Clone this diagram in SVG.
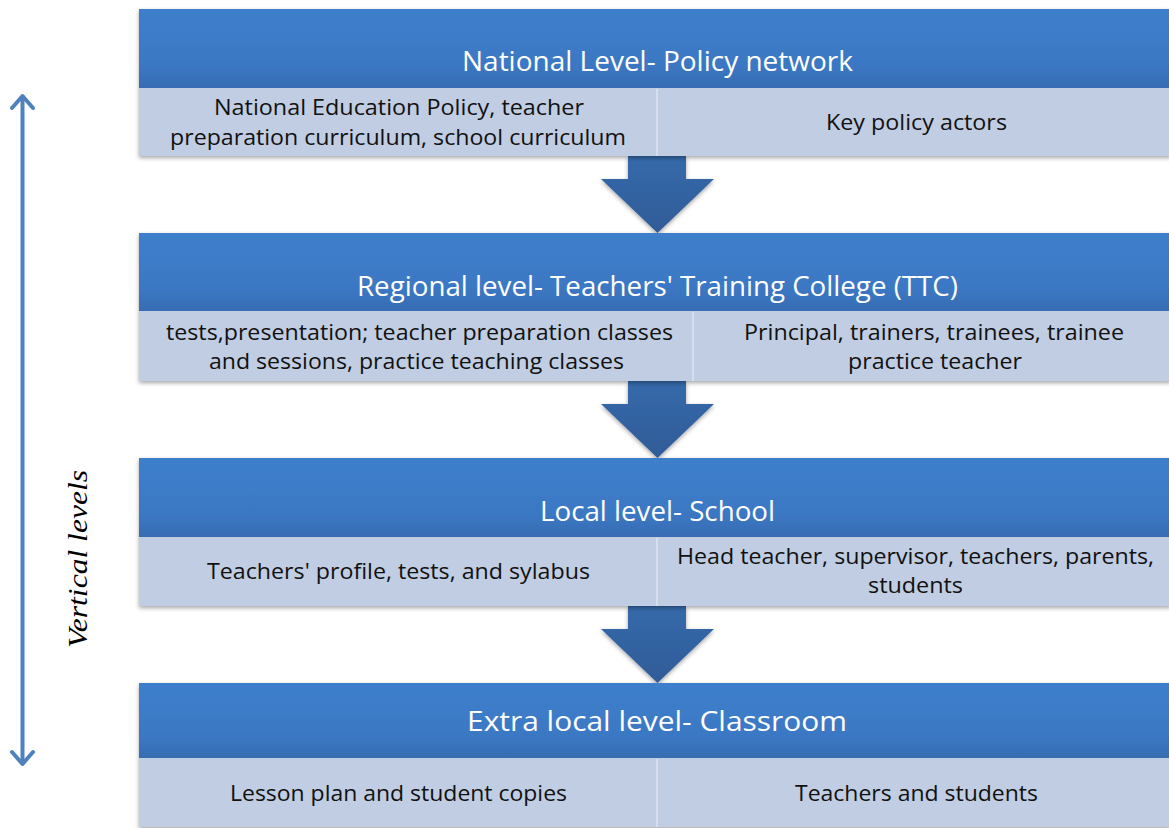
<svg xmlns="http://www.w3.org/2000/svg" width="1169" height="828" viewBox="0 0 1169 828">
<style>
.hdr{fill:url(#hg);}
.row{fill:#c0cde2;}
.div{stroke:#d6deee;stroke-width:2;}
.ht{font-family:"Open Sans","Noto Sans",sans-serif;font-size:27px;fill:#ffffff;text-anchor:middle;}
.rt{font-family:"Open Sans","Noto Sans",sans-serif;font-size:21px;fill:#111111;text-anchor:middle;}
.arr{fill:url(#ag);}
.side{stroke:#4f81bd;stroke-width:4;fill:none;stroke-linecap:round;stroke-linejoin:round;}
.vt{font-family:"Liberation Serif","Times New Roman",serif;font-style:italic;font-size:28px;fill:#000;text-anchor:middle;}
</style>
<defs>
<linearGradient id="hg" x1="0" y1="0" x2="0" y2="1">
<stop offset="0" stop-color="#3e7fcc"/>
<stop offset="0.7" stop-color="#3b78c4"/>
<stop offset="1" stop-color="#376cb2"/>
</linearGradient>
<linearGradient id="ag" x1="0" y1="0" x2="0" y2="1">
<stop offset="0" stop-color="#3669aa"/>
<stop offset="1" stop-color="#2f5c98"/>
</linearGradient>
<filter id="sh" x="-5%" y="-10%" width="110%" height="130%">
<feDropShadow dx="0" dy="2" stdDeviation="2" flood-color="#000" flood-opacity="0.35"/>
</filter>
</defs>
<rect width="1169" height="828" fill="#ffffff"/>

<g id="connectors">
<path class="arr" filter="url(#sh)" d="M628,156 H686 V179 H714 L657.5,233 L601,179 H628 Z"/>
<path class="arr" filter="url(#sh)" d="M628,381 H686 V404 H714 L657.5,458 L601,404 H628 Z"/>
<path class="arr" filter="url(#sh)" d="M628,606 H686 V629 H714 L657.5,683 L601,629 H628 Z"/>
</g>

<g id="national">
<g filter="url(#sh)">
<rect class="hdr" x="139" y="9" width="1032" height="79"/>
<rect class="row" x="139" y="88" width="1032" height="68"/>
</g>
<line class="div" x1="657" y1="89" x2="657" y2="156"/>
<text class="ht" x="657.5" y="71" textLength="391" lengthAdjust="spacingAndGlyphs">National Level- Policy network</text>
<text class="rt" x="399" y="115" textLength="370" lengthAdjust="spacingAndGlyphs">National Education Policy, teacher</text>
<text class="rt" x="398" y="145" textLength="456" lengthAdjust="spacingAndGlyphs">preparation curriculum, school curriculum</text>
<text class="rt" x="916.5" y="130" textLength="181" lengthAdjust="spacingAndGlyphs">Key policy actors</text>
</g>

<g id="regional">
<g filter="url(#sh)">
<rect class="hdr" x="139" y="233" width="1032" height="78"/>
<rect class="row" x="139" y="311" width="1032" height="70"/>
</g>
<line class="div" x1="693" y1="312" x2="693" y2="381"/>
<text class="ht" x="657.5" y="296" textLength="601" lengthAdjust="spacingAndGlyphs">Regional level- Teachers' Training College (TTC)</text>
<text class="rt" x="419.5" y="340" textLength="507" lengthAdjust="spacingAndGlyphs">tests,presentation; teacher preparation classes</text>
<text class="rt" x="416.5" y="369" textLength="415" lengthAdjust="spacingAndGlyphs">and sessions, practice teaching classes</text>
<text class="rt" x="934" y="340" textLength="380" lengthAdjust="spacingAndGlyphs">Principal, trainers, trainees, trainee</text>
<text class="rt" x="935" y="369" textLength="174" lengthAdjust="spacingAndGlyphs">practice teacher</text>
</g>

<g id="local">
<g filter="url(#sh)">
<rect class="hdr" x="139" y="458" width="1032" height="79"/>
<rect class="row" x="139" y="537" width="1032" height="69"/>
</g>
<line class="div" x1="657" y1="538" x2="657" y2="606"/>
<text class="ht" x="657.5" y="521" textLength="235" lengthAdjust="spacingAndGlyphs">Local level- School</text>
<text class="rt" x="398.5" y="579" textLength="383" lengthAdjust="spacingAndGlyphs">Teachers' profile, tests, and sylabus</text>
<text class="rt" x="915.5" y="564" textLength="477" lengthAdjust="spacingAndGlyphs">Head teacher, supervisor, teachers, parents,</text>
<text class="rt" x="915.5" y="593" textLength="95" lengthAdjust="spacingAndGlyphs">students</text>
</g>

<g id="extralocal">
<g filter="url(#sh)">
<rect class="hdr" x="139" y="683" width="1032" height="75"/>
<rect class="row" x="139" y="758" width="1032" height="69"/>
</g>
<line class="div" x1="657" y1="759" x2="657" y2="827"/>
<text class="ht" x="657" y="731" textLength="380" lengthAdjust="spacingAndGlyphs">Extra local level- Classroom</text>
<text class="rt" x="398.5" y="801" textLength="337" lengthAdjust="spacingAndGlyphs">Lesson plan and student copies</text>
<text class="rt" x="916.5" y="801" textLength="243" lengthAdjust="spacingAndGlyphs">Teachers and students</text>
</g>

<g id="vertical-levels">
<line class="side" x1="22.5" y1="97" x2="22.5" y2="763"/>
<polyline class="side" points="12,108 22.5,96 33,108"/>
<polyline class="side" points="12,752 22.5,764 33,752"/>
<text class="vt" transform="translate(87,559) rotate(-90)" textLength="178" lengthAdjust="spacingAndGlyphs">Vertical levels</text>
</g>
</svg>
